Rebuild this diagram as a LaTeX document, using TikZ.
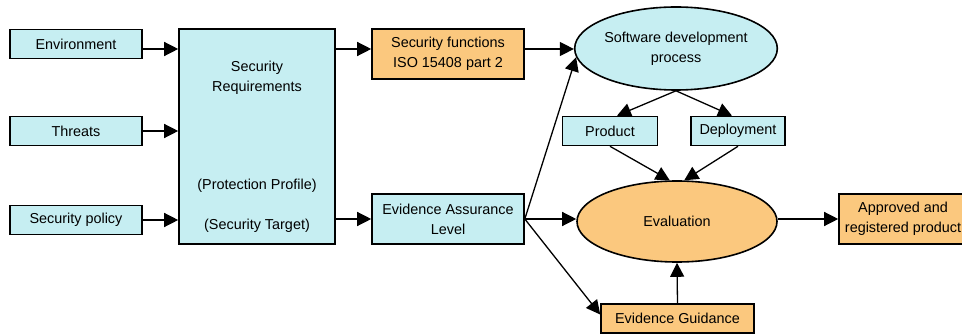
\documentclass[tikz,border=0pt]{standalone}
\usepackage{fontspec}
\setmainfont{Liberation Sans}
\usetikzlibrary{arrows.meta,shapes.geometric}
\definecolor{cyanbg}{RGB}{198,238,242}
\definecolor{orangebg}{RGB}{251,200,126}

\begin{document}
\begin{tikzpicture}[x=1pt,y=-1pt,line width=1.3pt,
  >={Triangle[length=14pt,width=14pt]},
  txt/.style={font=\fontsize{14.4}{20}\selectfont,align=center,inner sep=0pt},
  bluebox/.style={txt,draw,line width=1.6pt,fill=cyanbg},
  orangebox/.style={txt,draw,line width=1.6pt,fill=orangebg},
  oval/.style={txt,draw,line width=1.6pt,ellipse}]
\useasboundingbox (0,0) rectangle (962,334);
\clip (0,0) rectangle (962,334);
% inputs
\node [bluebox,minimum width=132pt,minimum height=29pt] (env) at (76,44) {Environment};
\node [bluebox,minimum width=132pt,minimum height=29pt] (thr) at (76,131) {Threats};
\node [bluebox,minimum width=132pt,minimum height=29pt] (pol) at (76,220) {Security policy};
% requirements
\node [bluebox,minimum width=156pt,minimum height=215pt] (req) at (257,136.5) {};
\node [txt] (reqtitle) at (257,78) {Security\\Requirements};
\node [txt] (pp) at (257,186) {(Protection Profile)};
\node [txt] (st) at (257,226) {(Security Target)};
% middle
\node [orangebox,minimum width=152pt,minimum height=50pt] (secf) at (448,54) {Security functions\\ISO 15408 part 2};
\node [bluebox,minimum width=152pt,minimum height=50pt] (eal) at (448,219) {Evidence Assurance\\Level};
\node [oval,fill=cyanbg,minimum width=198pt,minimum height=83pt] (sdp) at (676,48.5) {Software development\\process};
\node [bluebox,minimum width=95pt,minimum height=29pt] (prod) at (610,131) {Product};
\node [bluebox,minimum width=94pt,minimum height=29pt] (dep) at (738,131) {Deployment};
\node [oval,fill=orangebg,minimum width=200pt,minimum height=81pt] (eval) at (677,221.5) {Evaluation};
\node [orangebox,minimum width=153pt,minimum height=29pt] (eg) at (677.5,318.5) {Evidence Guidance};
\node [orangebox,minimum width=128pt,minimum height=50pt] (app) at (903,219) {Approved and\\registered product};
% arrows
\draw [->] ([yshift=-5pt]env.east) -- ([yshift=-5pt]env.east -| req.west) ;
\draw [->] (thr.east) -- (thr.east -| req.west) ;
\draw [->] (pol.east) -- (pol.east -| req.west) ;
\draw [->] ([yshift=5pt]secf.west -| req.east) -- ([yshift=5pt]secf.west) ;
\draw [->] (eal.west -| req.east) -- (eal.west) ;
\draw [->] ([yshift=5pt]secf.east) -- ([yshift=5pt]secf.east -| sdp.west) ;
\draw [->] (sdp.south) -- ([xshift=7pt]prod.north) ;
\draw [->] (sdp.south) -- ([xshift=-6pt]dep.north) ;
\draw [->] (prod.south) -- (eval.100) ;
\draw [->] (dep.south) -- (eval.80) ;
\draw [->] (eal.east) -- (sdp.185) ;
\draw [->] (eal.east) -- (eal.east -| eval.west) ;
\draw [->] (eal.east) -- ([yshift=4pt]eg.west) ;
\draw [->] (eg.north) -- (eval.south) ;
\draw [->] (app.west -| eval.east) -- (app.west) ;
\end{tikzpicture}
\end{document}
